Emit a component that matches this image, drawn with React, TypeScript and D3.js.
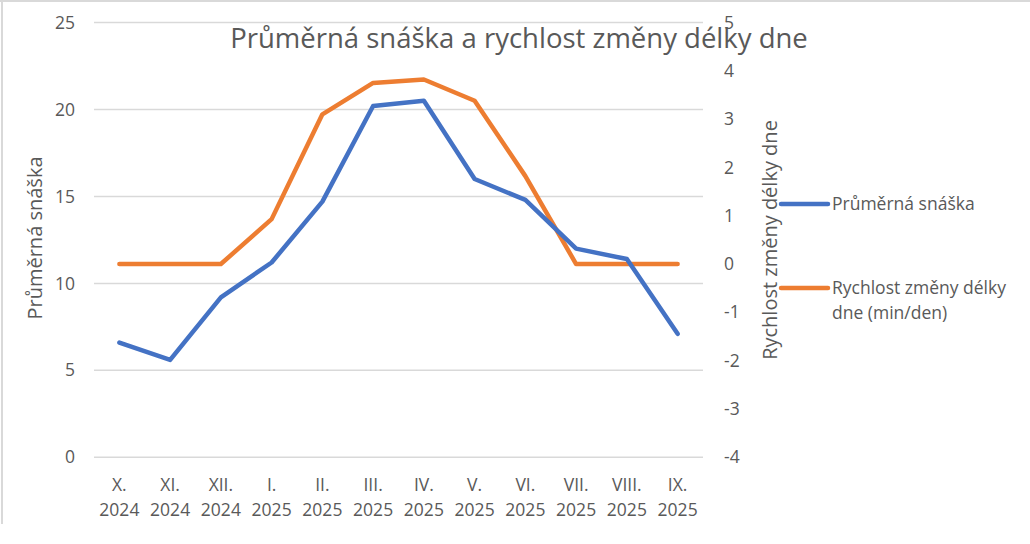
import * as d3 from "d3";

const months = ["X.", "XI.", "XII.", "I.", "II.", "III.", "IV.", "V.", "VI.", "VII.", "VIII.", "IX."];
const years = ["2024", "2024", "2024", "2025", "2025", "2025", "2025", "2025", "2025", "2025", "2025", "2025"];

// průměrná snáška (levá osa)
const snaska = [6.6, 5.6, 9.2, 11.2, 14.7, 20.2, 20.5, 16.0, 14.8, 12.0, 11.4, 7.1];
// rychlost změny délky dne v min/den (pravá osa)
const rychlost = [0, 0, 0, 0.93, 3.1, 3.75, 3.82, 3.38, 1.82, 0, 0, 0];

const leftTicks = [0, 5, 10, 15, 20, 25];
const rightTicks = [-4, -3, -2, -1, 0, 1, 2, 3, 4, 5];

const title = "Průměrná snáška a rychlost změny délky dne";
const leftTitle = "Průměrná snáška";
const rightTitle = "Rychlost změny délky dne";
const legendLabels = [["Průměrná snáška"], ["Rychlost změny délky", "dne (min/den)"]];

const W = 1030;
const H = 544;
const plot = { left: 94, right: 703, top: 22.5, bottom: 457.3 };

const BLUE = "#4472C4";
const ORANGE = "#ED7D31";
const TEXT = "#595959";
const GRID = "#d9d9d9";
const FONT = "'Open Sans', sans-serif";
const FS = 17.5;

export default function App() {
  const x = d3
    .scaleBand<number>()
    .domain(d3.range(months.length))
    .range([plot.left, plot.right]);
  const cx = (i: number) => (x(i) ?? 0) + x.bandwidth() / 2;

  const yL = d3.scaleLinear().domain([0, 25]).range([plot.bottom, plot.top]);
  const yR = d3.scaleLinear().domain([-4, 5]).range([plot.bottom, plot.top]);

  const lineL = d3
    .line<number>()
    .x((_, i) => cx(i))
    .y((d) => yL(d));
  const lineR = d3
    .line<number>()
    .x((_, i) => cx(i))
    .y((d) => yR(d));

  const legendY = [204, 288];
  const legendColors = [BLUE, ORANGE];

  return (
    <div style={{ position: "fixed", left: 0, top: 0 }}>
      <svg width={W} height={H} style={{ display: "block", background: "#fff" }} fontFamily={FONT}>
        {/* rámeček */}
        <line x1={2} x2={2} y1={0} y2={524} stroke={GRID} strokeWidth={2} />
        <line x1={0} x2={W} y1={1} y2={1} stroke={GRID} strokeWidth={2} />

        {/* mřížka a levá osa */}
        {leftTicks.map((t) => (
          <g key={t}>
            <line x1={plot.left} x2={plot.right} y1={yL(t)} y2={yL(t)} stroke={GRID} strokeWidth={1.5} />
            <text x={75} y={yL(t)} dy="0.35em" textAnchor="end" fontSize={FS} fill={TEXT}>
              {t}
            </text>
          </g>
        ))}

        {/* pravá osa */}
        {rightTicks.map((t) => (
          <text key={t} x={724} y={yR(t)} dy="0.35em" textAnchor="start" fontSize={FS} fill={TEXT}>
            {t}
          </text>
        ))}

        {/* popisky kategorií */}
        {months.map((m, i) => (
          <text key={i} x={cx(i)} textAnchor="middle" fontSize={FS} fill={TEXT}>
            <tspan x={cx(i)} y={491}>{m}</tspan>
            <tspan x={cx(i)} y={516}>{years[i]}</tspan>
          </text>
        ))}

        {/* názvy os */}
        <text transform="translate(42,238) rotate(-90)" textAnchor="middle" fontSize={20} fill={TEXT}>
          {leftTitle}
        </text>
        <text transform="translate(777,240) rotate(-90)" textAnchor="middle" fontSize={20} fill={TEXT}>
          {rightTitle}
        </text>

        {/* křivky */}
        <path d={lineR(rychlost) ?? ""} fill="none" stroke={ORANGE} strokeWidth={4.5} strokeLinejoin="round" strokeLinecap="round" />
        <path d={lineL(snaska) ?? ""} fill="none" stroke={BLUE} strokeWidth={4.5} strokeLinejoin="round" strokeLinecap="round" />

        {/* nadpis */}
        <text x={519} y={48} textAnchor="middle" fontSize={27.5} fill={TEXT}>
          {title}
        </text>

        {/* legenda */}
        {legendLabels.map((lines, k) => (
          <g key={k}>
            <line x1={781} x2={828} y1={legendY[k]} y2={legendY[k]} stroke={legendColors[k]} strokeWidth={4.5} strokeLinecap="round" />
            <text fontSize={FS} fill={TEXT}>
              {lines.map((l, j) => (
                <tspan key={j} x={832} y={legendY[k] + 6 + j * 25}>
                  {l}
                </tspan>
              ))}
            </text>
          </g>
        ))}
      </svg>
    </div>
  );
}
